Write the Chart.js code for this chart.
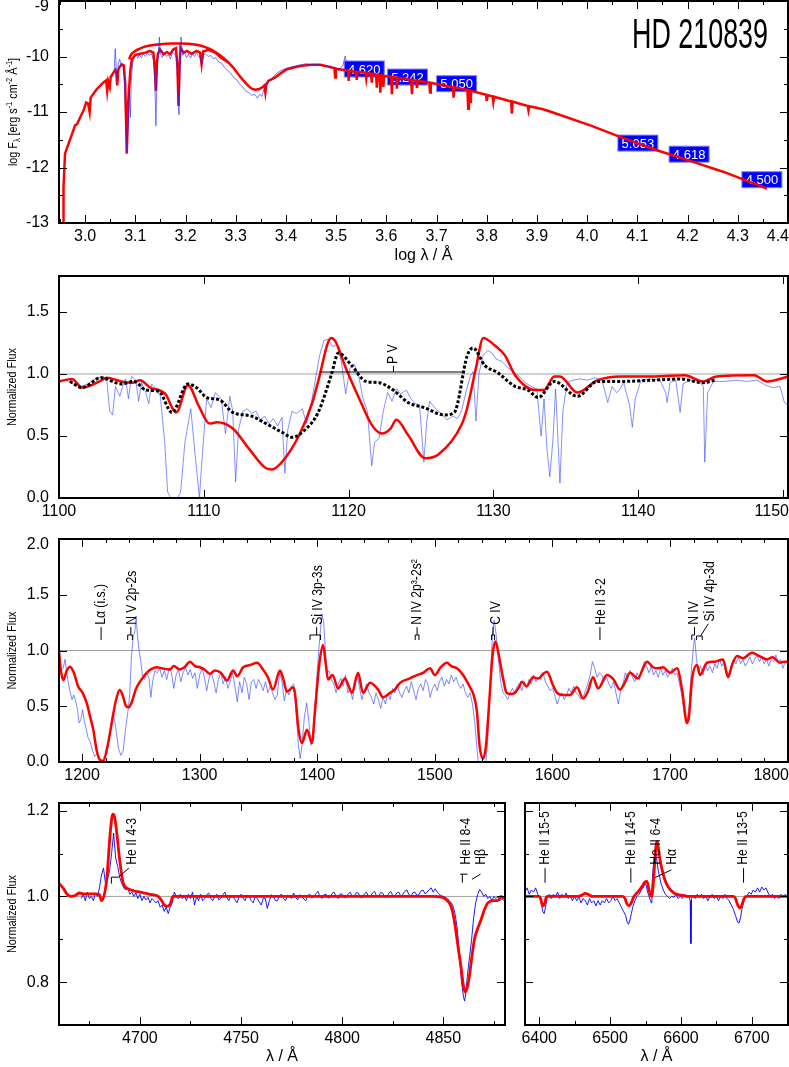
<!DOCTYPE html>
<html>
<head>
<meta charset="utf-8">
<title>HD 210839</title>
<script src="https://cdn.jsdelivr.net/npm/chart.js@4.4.1/dist/chart.umd.min.js"></script>
<style>
  html, body { margin: 0; padding: 0; background: #fff; overflow: hidden; }
  #wrap { position: relative; width: 789px; height: 1067px; }
  canvas { position: absolute; }
</style>
</head>
<body>
<div id="wrap">
  <canvas id="p1" width="789" height="268" style="left:0px;top:0px"></canvas>
  <canvas id="p2" width="789" height="257" style="left:0px;top:268px"></canvas>
  <canvas id="p3" width="789" height="260" style="left:0px;top:525px"></canvas>
  <canvas id="p4" width="515" height="282" style="left:0px;top:785px"></canvas>
  <canvas id="p5" width="274" height="282" style="left:515px;top:785px"></canvas>
</div>
<script>
// ---- SED: log lambda / log F_lambda ----
var sedObs = [
  [3.058,-10.25],[3.060,-9.86],[3.062,-10.2],[3.064,-10.45],[3.066,-10.12],[3.069,-10.05],[3.072,-10.18],[3.075,-10.15],
  [3.078,-10.35],[3.080,-10.9],[3.083,-11.7],[3.086,-11.2],[3.088,-10.6],[3.090,-11.1],[3.092,-10.4],[3.095,-10.1],
  [3.098,-10.02],[3.102,-9.98],[3.105,-10.03],[3.108,-9.97],[3.112,-10.02],[3.116,-9.95],[3.120,-10.0],[3.124,-9.94],
  [3.128,-9.98],[3.132,-9.95],[3.136,-10.05],[3.139,-10.5],[3.141,-11.25],[3.143,-10.4],[3.146,-9.9],[3.148,-9.65],
  [3.150,-9.95],[3.154,-10.02],[3.158,-9.93],[3.162,-10.0],[3.166,-9.97],[3.170,-10.04],[3.174,-9.93],[3.178,-9.95],
  [3.182,-10.02],[3.185,-10.6],[3.187,-11.05],[3.189,-10.3],[3.191,-9.65],[3.194,-9.98],[3.198,-9.93],[3.202,-10.02],
  [3.206,-9.96],[3.210,-10.03],[3.214,-9.95],[3.218,-10.0],[3.222,-9.93],[3.226,-10.0],[3.230,-10.02],[3.232,-10.15],
  [3.236,-9.97],[3.240,-9.95],[3.245,-10.0],[3.250,-9.98],[3.255,-10.04],[3.260,-10.02],[3.266,-10.1],[3.272,-10.12],
  [3.278,-10.2],[3.284,-10.25],[3.290,-10.3],[3.296,-10.38],[3.302,-10.42],[3.308,-10.5],[3.314,-10.55],[3.320,-10.62],
  [3.326,-10.65],[3.332,-10.7],[3.338,-10.68],[3.343,-10.75],[3.348,-10.68],[3.352,-10.72],[3.356,-10.6],[3.360,-10.55],
  [3.365,-10.45],[3.370,-10.42],[3.376,-10.35],[3.382,-10.3],[3.390,-10.25],[3.400,-10.22],[3.410,-10.19],[3.420,-10.17],
  [3.430,-10.15],[3.440,-10.13],[3.450,-10.15],[3.460,-10.14],[3.470,-10.16],[3.480,-10.17],[3.490,-10.2],[3.500,-10.2],
  [3.505,-10.25],[3.510,-10.2],[3.514,-10.15],[3.518,-9.99],[3.520,-10.1],[3.522,-10.22]
];
var sedModel = [
  [2.956,-13.0],[2.957,-12.35],[2.960,-11.75],[2.967,-11.57],[2.973,-11.42],[2.980,-11.24],[2.984,-11.22],[2.990,-11.1],
  [2.997,-10.97],[3.002,-10.83],[3.006,-10.85],[3.009,-11.0],[3.011,-10.74],[3.023,-10.59],[3.036,-10.47],[3.042,-10.43],
  [3.044,-10.62],[3.046,-10.45],[3.049,-10.55],[3.051,-10.37],[3.060,-10.24],[3.062,-10.28],[3.064,-10.52],[3.066,-10.25],
  [3.068,-10.2],[3.073,-10.14],[3.077,-10.16],[3.080,-10.5],[3.083,-11.75],[3.086,-10.8],[3.090,-10.26],[3.093,-10.05],
  [3.100,-9.97],[3.106,-9.96],[3.120,-9.93],[3.129,-9.90],[3.136,-9.93],[3.139,-10.2],[3.141,-10.62],[3.143,-10.1],
  [3.145,-9.96],[3.149,-9.87],[3.156,-9.96],[3.163,-9.92],[3.169,-9.96],[3.176,-9.87],[3.181,-9.85],[3.184,-10.2],
  [3.186,-10.89],[3.188,-10.2],[3.190,-9.84],[3.196,-9.93],[3.203,-9.90],[3.212,-9.95],[3.222,-9.90],[3.229,-9.93],
  [3.232,-10.14],[3.235,-9.91],[3.246,-9.88],[3.259,-9.93],[3.272,-10.03],[3.286,-10.11],[3.296,-10.21],[3.305,-10.32],
  [3.315,-10.43],[3.325,-10.53],[3.332,-10.58],[3.339,-10.60],[3.346,-10.59],[3.352,-10.56],[3.357,-10.52],[3.359,-10.65],
  [3.361,-10.5],[3.365,-10.44],[3.378,-10.38],[3.390,-10.3],[3.402,-10.23],[3.428,-10.17],[3.450,-10.15],[3.468,-10.15],
  [3.488,-10.19],[3.4965,-10.21],[3.498,-10.38],[3.4995,-10.22],
  [3.5235,-10.255],[3.525,-10.44],[3.5265,-10.26],[3.5395,-10.275],[3.541,-10.42],[3.5425,-10.28],[3.554,-10.29],
  [3.5585,-10.295],[3.560,-10.40],[3.5615,-10.30],[3.5695,-10.31],[3.571,-10.47],[3.5725,-10.315],
  [3.5795,-10.325],[3.581,-10.56],[3.5825,-10.33],[3.5865,-10.335],[3.588,-10.65],[3.5895,-10.34],
  [3.5925,-10.345],[3.594,-10.55],[3.5955,-10.35],[3.6095,-10.365],[3.611,-10.68],[3.6125,-10.37],
  [3.6195,-10.38],[3.621,-10.58],[3.6225,-10.385],[3.6495,-10.42],[3.651,-10.68],[3.6525,-10.425],
  [3.6595,-10.435],[3.661,-10.57],[3.6625,-10.44],[3.6855,-10.47],[3.687,-10.65],[3.6885,-10.475],
  [3.7325,-10.555],[3.734,-10.74],[3.7355,-10.56],[3.754,-10.59],[3.7615,-10.605],[3.763,-10.94],[3.7645,-10.61],
  [3.7655,-10.615],[3.767,-10.82],[3.7685,-10.62],[3.7985,-10.69],[3.800,-10.80],[3.8015,-10.695],
  [3.8115,-10.72],[3.813,-10.82],[3.8145,-10.725],[3.820,-10.74],[3.8485,-10.81],[3.850,-11.03],[3.8515,-10.815],
  [3.873,-10.87],[3.8815,-10.89],[3.883,-10.97],[3.8845,-10.895],[3.912,-10.95],[3.926,-10.99],[4.006,-11.24],
  [4.072,-11.47],[4.139,-11.69],[4.205,-11.88],[4.272,-12.08],[4.358,-12.38]
];
var sedModelCont = [
  [3.088,-10.05],[3.090,-9.99],[3.100,-9.9],[3.106,-9.87],[3.120,-9.82],[3.139,-9.79],[3.156,-9.775],[3.173,-9.765],
  [3.190,-9.765],[3.206,-9.77],[3.222,-9.79],[3.239,-9.83],[3.252,-9.88],[3.266,-9.96],[3.276,-10.03],[3.286,-10.11]
];
// photometry: log lambda, log flux, magnitude
var photLam = [3.556, 3.642, 3.740, 4.101, 4.203, 4.348];
var photFlux = [-10.225, -10.37, -10.49, -11.56, -11.76, -12.22];
var photMag = ['4.620', '5.242', '5.050', '5.053', '4.618', '4.500'];

// ---- FUV 1100-1150 ----
var fuvObs = [
  [1100.5,0.95],[1101.0,0.92],[1101.5,0.90],[1102.0,0.92],[1102.5,0.96],[1103.0,0.98],[1103.3,0.95],[1103.5,0.70],
  [1103.7,0.67],[1103.9,0.90],[1104.2,0.82],[1104.4,0.90],[1104.6,0.96],[1104.8,0.80],[1105.0,0.98],[1105.3,0.95],
  [1105.5,0.78],[1105.7,0.93],[1106.0,0.85],[1106.2,0.76],[1106.4,0.92],[1106.7,0.88],[1107.0,0.82],[1107.3,0.45],
  [1107.5,0.05],[1107.7,0.0],[1108.2,0.0],[1108.4,0.05],[1108.7,0.45],[1109.1,0.72],[1109.4,0.35],[1109.7,0.0],
  [1109.9,0.35],[1110.2,0.80],[1110.5,0.73],[1110.8,0.85],[1111.2,0.80],[1111.5,0.52],[1111.8,0.82],[1112.0,0.70],
  [1112.2,0.13],[1112.4,0.55],[1112.7,0.70],[1113.0,0.72],[1113.3,0.68],[1113.6,0.70],[1113.9,0.63],[1114.2,0.66],
  [1114.5,0.60],[1114.8,0.64],[1115.1,0.58],[1115.4,0.65],[1115.6,0.20],[1115.8,0.55],[1116.1,0.70],[1116.4,0.68],
  [1116.8,0.72],[1117.1,0.60],[1117.4,0.75],[1117.7,0.95],[1118.0,1.15],[1118.3,1.27],[1118.6,1.28],[1118.9,1.22],
  [1119.2,1.24],[1119.5,1.10],[1119.8,0.84],[1120.1,1.05],[1120.4,1.08],[1120.7,0.98],[1121.0,0.80],[1121.3,0.70],
  [1121.6,0.26],[1121.8,0.45],[1122.1,0.48],[1122.4,0.70],[1122.7,0.85],[1123.0,0.78],[1123.3,0.88],[1123.6,0.84],
  [1124.0,0.87],[1124.3,0.80],[1124.6,0.76],[1124.9,0.75],[1125.2,0.29],[1125.4,0.62],[1125.6,0.78],[1126.0,0.72],
  [1126.4,0.68],[1126.8,0.63],[1127.2,0.66],[1127.5,0.64],[1127.8,0.70],[1128.1,0.85],[1128.4,0.98],[1128.6,1.02],
  [1128.8,0.62],[1129.0,1.0],[1129.3,1.15],[1129.6,1.19],[1129.9,1.17],[1130.2,1.12],[1130.6,1.10],[1131.0,1.05],
  [1131.4,1.02],[1131.8,0.98],[1132.2,0.93],[1132.6,0.90],[1133.0,0.88],[1133.3,0.50],[1133.5,0.80],[1133.7,0.40],
  [1133.9,0.17],[1134.1,0.45],[1134.3,0.88],[1134.6,0.12],[1134.8,0.70],[1135.1,0.93],[1135.5,0.95],[1136.0,0.96],
  [1136.5,0.95],[1137.0,0.97],[1137.5,0.95],[1137.9,0.77],[1138.2,0.90],[1138.5,0.85],[1138.7,0.87],[1139.0,0.93],
  [1139.4,0.75],[1139.6,0.57],[1139.8,0.80],[1140.2,0.95],[1140.8,0.96],[1141.5,0.95],[1141.9,0.85],[1142.0,0.77],
  [1142.2,0.93],[1142.6,0.95],[1142.9,0.69],[1143.1,0.92],[1143.6,0.95],[1144.2,0.94],[1144.5,0.90],[1144.6,0.29],
  [1144.8,0.85],[1145.2,0.94],[1146.0,0.94],[1146.8,0.95],[1147.5,0.94],[1148.2,0.95],[1148.8,0.91],[1149.3,0.89],
  [1149.8,0.90],[1150.1,0.77],[1150.4,0.74]
];
var fuvModel = [
  [1100.0,0.94],[1100.9,0.96],[1101.6,0.89],[1102.8,0.94],[1103.3,0.97],[1104.3,0.94],[1105.1,0.93],[1105.6,0.95],
  [1106.3,0.89],[1106.9,0.87],[1107.4,0.83],[1107.8,0.73],[1108.1,0.69],[1108.9,0.91],[1109.7,0.73],[1110.4,0.60],
  [1110.9,0.61],[1112.0,0.56],[1113.1,0.40],[1114.3,0.24],[1114.7,0.23],[1115.4,0.29],[1116.6,0.51],[1117.5,0.77],
  [1117.9,0.94],[1118.8,1.29],[1119.1,1.26],[1119.8,1.05],[1120.7,0.81],[1121.6,0.59],[1122.3,0.52],[1122.9,0.56],
  [1123.3,0.63],[1124.1,0.51],[1125.3,0.32],[1126.2,0.35],[1127.8,0.59],[1128.2,0.73],[1128.8,1.05],[1129.3,1.29],
  [1130.1,1.23],[1130.8,1.15],[1131.5,0.99],[1132.9,0.87],[1133.5,0.87],[1134.2,0.98],[1134.6,0.98],[1135.8,0.85],
  [1137.2,0.95],[1138.8,0.98],[1141.1,0.98],[1143.2,0.99],[1144.5,0.94],[1145.4,0.98],[1148.0,0.99],[1148.9,0.94],
  [1150.4,0.98]
];
var fuvModel2 = [
  [1100.75,0.94],[1101.6,0.89],[1102.9,0.97],[1104.3,0.92],[1105.2,0.94],[1106.0,0.87],[1106.9,0.86],[1107.8,0.69],
  [1108.9,0.92],[1109.5,0.89],[1110.2,0.81],[1111.1,0.79],[1112.0,0.69],[1113.3,0.66],[1114.3,0.60],[1115.4,0.53],
  [1116.1,0.49],[1117.0,0.55],[1117.9,0.69],[1118.8,0.99],[1119.3,1.17],[1120.2,1.07],[1121.2,0.94],[1122.1,0.93],
  [1122.7,0.90],[1123.3,0.85],[1124.1,0.77],[1125.2,0.73],[1126.6,0.67],[1127.3,0.69],[1128.2,1.15],[1128.6,1.21],
  [1129.4,1.07],[1130.3,1.01],[1131.5,0.90],[1132.4,0.87],[1133.1,0.81],[1134.2,0.94],[1135.8,0.82],[1137.2,0.94],
  [1138.8,0.94],[1141.1,0.95],[1142.9,0.96],[1144.5,0.93],[1145.3,0.95]
];

// ---- UV 1180-1800 ----
var uvObs = [
  [1180.4,1.12],[1181.5,0.90],[1182.5,0.82],[1184,0.84],[1185.5,0.92],[1187,0.80],[1188.5,0.70],[1190,0.62],
  [1191.5,0.56],[1193,0.60],[1194.5,0.55],[1196,0.48],[1197.5,0.35],[1199,0.38],[1200.5,0.47],[1202,0.36],
  [1203.5,0.30],[1205,0.22],[1207,0.18],[1209,0.10],[1211,0.05],[1213,0.08],[1215,0.01],[1217,0.0],
  [1219,0.05],[1221,0.07],[1223,0.20],[1225,0.33],[1227,0.42],[1229,0.28],[1231,0.12],[1233,0.06],
  [1235,0.10],[1237,0.30],[1239,0.45],[1240.5,0.60],[1242,0.95],[1243.5,1.12],[1245,1.18],[1246,1.31],
  [1247,1.15],[1248.5,1.00],[1250,0.90],[1251.5,0.76],[1253,0.74],[1255,0.80],[1257,0.75],[1258.5,0.58],
  [1260,0.72],[1262,0.82],[1264,0.80],[1266,0.84],[1268,0.76],[1270,0.82],[1272,0.74],[1274,0.84],
  [1276,0.80],[1278,0.66],[1280,0.78],[1282,0.83],[1284,0.72],[1286,0.80],[1288,0.85],[1290,0.78],
  [1292,0.83],[1294,0.75],[1296,0.80],[1298,0.66],[1300,0.78],[1302,0.84],[1304,0.76],[1306,0.64],
  [1308,0.75],[1310,0.80],[1312,0.72],[1314,0.62],[1316,0.74],[1318,0.80],[1320,0.70],[1322,0.76],
  [1324,0.66],[1326,0.72],[1328,0.80],[1330,0.68],[1332,0.54],[1334,0.72],[1336,0.62],[1338,0.76],
  [1340,0.70],[1342,0.56],[1344,0.72],[1346,0.74],[1348,0.66],[1350,0.74],[1352,0.70],[1354,0.64],
  [1356,0.72],[1358,0.62],[1360,0.68],[1362,0.62],[1364,0.56],[1366,0.60],[1368,0.80],[1370,0.72],
  [1372,0.55],[1374,0.65],[1376,0.60],[1378,0.68],[1380,0.70],[1382,0.45],[1384,0.15],[1385.5,0.03],
  [1387,0.15],[1389,0.40],[1391,0.53],[1393,0.35],[1394.5,0.15],[1396,0.20],[1398,0.50],[1400,0.82],
  [1402,1.10],[1404,1.33],[1405.5,1.25],[1407,0.98],[1408.5,0.80],[1410,0.82],[1412,0.74],[1414,0.70],
  [1416,0.62],[1418,0.70],[1420,0.75],[1422,0.68],[1424,0.78],[1426,0.62],[1428,0.66],[1430,0.56],
  [1432,0.70],[1434,0.78],[1436,0.66],[1438,0.56],[1440,0.64],[1442,0.70],[1444,0.62],[1446,0.58],
  [1448,0.52],[1450,0.62],[1452,0.56],[1454,0.48],[1456,0.58],[1458,0.52],[1460,0.62],[1462,0.56],
  [1464,0.66],[1466,0.62],[1468,0.70],[1470,0.62],[1472,0.58],[1474,0.64],[1476,0.68],[1478,0.62],
  [1480,0.72],[1482,0.64],[1484,0.56],[1486,0.66],[1488,0.70],[1490,0.64],[1492,0.74],[1494,0.70],
  [1496,0.58],[1498,0.66],[1500,0.70],[1502,0.64],[1504,0.72],[1506,0.76],[1508,0.68],[1510,0.74],
  [1512,0.70],[1514,0.78],[1516,0.72],[1518,0.76],[1520,0.70],[1522,0.66],[1524,0.70],[1526,0.62],
  [1528,0.58],[1530,0.62],[1532,0.52],[1534,0.35],[1536,0.10],[1537.5,-0.05],[1543,-0.05],[1545,0.20],
  [1547,0.70],[1549,1.15],[1550.5,1.27],[1552,1.15],[1554,0.92],[1556,0.72],[1558,0.62],[1560,0.60],
  [1562,0.56],[1564,0.62],[1566,0.66],[1568,0.62],[1570,0.68],[1572,0.70],[1574,0.64],[1576,0.72],
  [1578,0.66],[1580,0.74],[1582,0.70],[1584,0.78],[1586,0.72],[1588,0.76],[1590,0.74],[1592,0.80],
  [1594,0.72],[1596,0.68],[1598,0.64],[1600,0.66],[1602,0.60],[1604,0.52],[1606,0.58],[1608,0.62],
  [1610,0.56],[1612,0.60],[1614,0.66],[1616,0.62],[1618,0.68],[1620,0.62],[1622,0.60],[1624,0.56],
  [1626,0.58],[1628,0.64],[1630,0.70],[1632,0.78],[1634,0.90],[1636,0.84],[1638,0.76],[1640,0.80],
  [1642,0.78],[1644,0.72],[1646,0.76],[1648,0.70],[1650,0.66],[1652,0.72],[1654,0.62],[1656,0.52],
  [1658,0.64],[1660,0.70],[1662,0.80],[1664,0.74],[1666,0.82],[1668,0.76],[1670,0.72],[1672,0.80],
  [1674,0.74],[1676,0.82],[1678,0.90],[1680,0.86],[1682,0.80],[1684,0.86],[1686,0.78],[1688,0.82],
  [1690,0.76],[1692,0.84],[1694,0.78],[1696,0.82],[1698,0.76],[1700,0.80],[1702,0.84],[1704,0.78],
  [1706,0.80],[1708,0.70],[1710,0.60],[1712,0.45],[1714,0.36],[1716,0.45],[1718,0.80],[1720,1.05],
  [1721,1.11],[1722.5,0.92],[1724,0.80],[1726,0.86],[1728,0.78],[1730,0.88],[1732,0.82],[1734,0.86],
  [1736,0.80],[1738,0.88],[1740,0.84],[1742,0.92],[1744,0.86],[1746,0.90],[1748,0.82],[1750,0.78],
  [1752,0.86],[1754,0.92],[1756,0.88],[1758,0.94],[1760,0.88],[1762,0.92],[1764,0.86],[1766,0.90],
  [1768,0.94],[1770,0.88],[1772,0.92],[1774,0.96],[1776,0.90],[1778,0.94],[1780,0.88],[1782,0.92],
  [1784,0.86],[1786,0.92],[1788,0.90],[1790,0.96],[1792,0.90],[1794,0.92],[1796,0.84],[1798,0.90],
  [1800.3,0.88]
];
var uvModel = [
  [1180.4,0.98],[1182,0.82],[1184.1,0.735],[1187,0.82],[1189.8,0.855],[1193,0.80],[1196.8,0.675],[1200.5,0.62],
  [1204,0.527],[1207,0.40],[1209.6,0.287],[1212.5,0.10],[1215.3,0.018],[1218,0.01],[1222,0.16],[1226,0.40],
  [1229,0.56],[1232,0.645],[1234.5,0.60],[1237,0.51],[1239.5,0.49],[1242,0.53],[1246,0.66],[1252,0.76],
  [1257,0.82],[1263.7,0.85],[1268,0.84],[1274.8,0.83],[1278,0.86],[1283,0.83],[1287,0.85],[1291.8,0.90],
  [1296,0.86],[1300.3,0.85],[1304,0.83],[1308.8,0.79],[1313,0.82],[1318,0.80],[1323.3,0.73],[1328.4,0.82],
  [1332,0.77],[1337,0.85],[1343,0.87],[1348.7,0.89],[1353.9,0.83],[1358,0.76],[1362.4,0.65],[1368.3,0.82],
  [1371,0.75],[1374.2,0.63],[1379.4,0.67],[1381,0.62],[1384,0.30],[1387,0.17],[1391.3,0.29],[1395.5,0.17],
  [1398,0.45],[1402,0.90],[1405,1.05],[1407,0.90],[1409.2,0.74],[1413,0.78],[1417.7,0.66],[1423.6,0.75],
  [1426,0.70],[1429.5,0.62],[1434.7,0.80],[1438.9,0.62],[1444.9,0.71],[1451.7,0.65],[1455.9,0.58],[1461.9,0.62],
  [1466,0.65],[1470.4,0.71],[1478.9,0.75],[1484.8,0.78],[1490,0.80],[1495.9,0.84],[1500,0.78],[1505,0.85],
  [1510.3,0.89],[1514,0.86],[1518.8,0.84],[1524,0.78],[1529.9,0.67],[1533,0.60],[1535.8,0.45],[1538,0.15],
  [1540.9,0.03],[1543.5,0.15],[1546,0.50],[1549,0.95],[1551.5,1.08],[1554,0.98],[1558,0.75],[1561,0.62],
  [1564,0.61],[1568,0.62],[1571,0.66],[1574.1,0.72],[1578,0.68],[1583.5,0.76],[1588,0.75],[1592,0.79],
  [1595.4,0.81],[1600,0.70],[1603.9,0.62],[1609,0.60],[1615,0.60],[1620.9,0.67],[1626,0.57],[1630,0.63],
  [1634.5,0.76],[1638.8,0.66],[1646.4,0.78],[1652,0.74],[1657.4,0.65],[1661,0.70],[1665.9,0.80],[1672.7,0.75],
  [1677,0.84],[1680.4,0.90],[1685.5,0.85],[1690,0.84],[1694,0.85],[1700,0.80],[1705.9,0.84],[1710.2,0.65],
  [1714.4,0.35],[1716,0.40],[1718.7,0.74],[1722.9,0.87],[1725.5,0.78],[1731.4,0.89],[1738,0.90],[1745,0.92],
  [1749.3,0.76],[1753,0.88],[1757,0.95],[1762,0.93],[1769.7,0.98],[1776,0.95],[1782.5,0.92],[1787,0.94],
  [1793.5,0.89],[1797,0.90],[1800.3,0.90]
];

// ---- optical: He II 4686 / H beta ----
var optObs = [
  [4671,0.995],[4672,1.005],[4673,0.99],[4674,1.01],[4675,0.995],[4676,1.0],[4677,0.99],[4678,1.008],[4679,1.0],
  [4680,1.02],[4681,1.05],[4682,1.066],[4683,1.03],[4684,1.04],[4685,1.06],[4686,1.10],[4687,1.148],[4688,1.09],
  [4689,1.07],[4690,1.045],[4691,1.03],[4692,1.02],[4693,1.015],[4694,1.02],[4695,1.005],[4696,1.01],[4697,1.0],
  [4698,1.008],[4699,0.995],[4700,1.005],[4701,0.99],[4702,1.0],[4703,0.992],[4704,0.998],[4705,0.985],[4706,0.995],
  [4707,0.99],[4708,0.985],[4709,0.99],[4710,0.975],[4711,0.98],[4712,0.965],[4713,0.975],[4714,0.96],[4715,0.975],
  [4716,0.985],[4717,1.01],[4718,1.0],[4719,0.995],[4720,1.005],[4721,0.995],[4722,1.0],[4723,0.99],[4724,1.005],
  [4725,0.995],[4726,1.01],[4727,0.98],[4728,1.0],[4729,0.99],[4730,1.005],[4731,0.99],[4732,0.995],[4733,1.004],
  [4734,1.008],[4735,0.996],[4736,0.99],[4737,1.0],[4738,1.005],[4739,0.992],[4740,0.995],[4741,1.004],[4742,1.01],
  [4743,0.997],[4744,0.99],[4745,1.002],[4746,1.0],[4747,0.992],[4748,0.985],[4749,0.998],[4750,1.005],[4751,0.996],
  [4752,0.99],[4753,1.003],[4754,1.0],[4755,0.99],[4756,0.985],[4757,1.0],[4758,0.995],[4759,0.987],[4760,0.98],
  [4761,0.996],[4762,0.995],[4763,0.972],[4764,0.99],[4765,1.004],[4766,1.0],[4767,0.99],[4768,0.99],[4769,1.002],
  [4770,1.005],[4771,0.995],[4772,0.99],[4773,1.003],[4774,1.0],[4775,0.995],[4776,1.008],[4777,0.998],[4778,0.992],
  [4779,1.004],[4780,1.0],[4781,0.994],[4782,0.99],[4783,1.002],[4784,1.005],[4785,0.996],[4786,1.0],[4787,1.006],
  [4788,1.012],[4789,1.0],[4790,0.995],[4791,1.004],[4792,1.005],[4793,0.996],[4794,0.998],[4795,1.007],[4796,1.01],
  [4797,1.0],[4798,0.995],[4799,1.006],[4800,1.005],[4801,0.997],[4802,0.998],[4803,1.006],[4804,1.01],[4805,0.999],
  [4806,1.0],[4807,1.009],[4808,1.008],[4809,0.998],[4810,0.997],[4811,1.006],[4812,1.01],[4813,1.0],[4814,1.0],
  [4815,1.008],[4816,1.012],[4817,1.001],[4818,1.0],[4819,1.009],[4820,1.008],[4821,0.999],[4822,0.998],[4823,1.007],
  [4824,1.012],[4825,1.002],[4826,1.0],[4827,1.008],[4828,1.01],[4829,1.0],[4830,1.005],[4831,1.012],[4832,1.015],
  [4833,1.004],[4834,1.0],[4835,1.009],[4836,1.01],[4837,1.002],[4838,1.005],[4839,1.013],[4840,1.015],[4841,1.006],
  [4842,1.01],[4843,1.016],[4844,1.02],[4845,1.01],[4846,1.018],[4847,1.01],[4848,1.005],[4849,1.002],[4850,1.0],
  [4851,0.998],[4852,0.995],[4853,0.99],[4854,0.985],[4855,0.975],[4856,0.955],[4857,0.92],[4858,0.86],[4859,0.80],
  [4860,0.765],[4860.5,0.756],[4861,0.77],[4862,0.82],[4863,0.86],[4864,0.90],[4865,0.95],[4866,0.985],[4867,1.005],
  [4868,1.016],[4869,1.01],[4870,1.0],[4871,1.005],[4872,0.995],[4873,1.0],[4874,0.99],[4875,1.0],[4876,0.995],
  [4877,1.0],[4878,0.99],[4879,0.995],[4880,0.99]
];
var optModel = [
  [4660,1.03],[4662,1.02],[4664,1.005],[4666,1.0],[4668,1.002],[4670,1.008],[4672,1.006],[4675,1.006],[4678,1.006],
  [4680,1.004],[4681,0.99],[4683.6,1.04],[4685.3,1.147],[4686.6,1.192],[4687.5,1.185],[4688.4,1.155],[4690,1.085],
  [4691.7,1.032],[4694,1.018],[4697,1.013],[4700,1.01],[4705,1.005],[4709,1.0],[4710.8,0.99],[4712,0.98],
  [4713.4,0.977],[4715,0.982],[4716.3,1.0],[4720,1.0],[4845,1.0],[4850,0.997],[4852,0.99],[4853.8,0.977],
  [4855,0.955],[4856.2,0.92],[4857.5,0.875],[4858.7,0.837],[4860,0.79],[4860.9,0.777],[4862,0.79],[4862.9,0.814],
  [4864,0.855],[4865.4,0.90],[4867,0.925],[4868.7,0.946],[4870,0.965],[4872,0.985],[4875,0.99],[4877,0.99],
  [4878.5,1.0],[4880,0.995]
];

// ---- optical: H alpha region ----
var haObs = [
  [6380,1.01],[6383,1.02],[6386,1.005],[6389,1.015],[6392,1.01],[6395,1.02],[6398,1.005],[6401,0.995],[6403,0.985],
  [6405,0.965],[6407,0.96],[6409,0.975],[6411,0.995],[6414,1.005],[6417,0.995],[6420,1.005],[6423,1.0],[6426,1.01],
  [6429,0.995],[6432,1.005],[6435,0.998],[6438,1.008],[6441,0.995],[6444,1.0],[6447,0.99],[6450,1.0],[6453,0.99],
  [6456,0.998],[6459,0.985],[6462,0.995],[6465,0.99],[6468,0.98],[6471,0.995],[6474,0.985],[6477,0.99],[6480,0.978],
  [6483,0.99],[6486,0.98],[6489,0.99],[6492,0.985],[6495,0.995],[6498,0.985],[6501,0.99],[6504,1.0],[6507,0.99],
  [6510,0.995],[6513,0.985],[6516,0.975],[6519,0.965],[6522,0.955],[6524,0.94],[6526,0.935],[6528,0.945],[6530,0.96],
  [6532,0.975],[6535,0.99],[6538,1.0],[6541,1.005],[6544,1.015],[6547,1.02],[6549,1.03],[6551,1.025],[6553,1.01],
  [6555,1.0],[6557,0.99],[6558,0.985],[6559,1.02],[6560,1.05],[6562,1.09],[6564,1.10],[6566,1.085],[6568,1.06],
  [6570,1.045],[6572,1.03],[6575,1.015],[6578,1.005],[6581,1.0],[6584,0.995],[6587,1.0],[6590,0.998],[6593,1.005],
  [6596,0.995],[6599,1.0],[6602,0.995],[6605,1.005],[6608,0.998],[6611,1.0],[6613,0.99],[6614,0.89],[6615,0.995],
  [6617,1.0],[6620,0.995],[6623,1.005],[6626,0.998],[6629,1.005],[6632,0.995],[6635,1.0],[6638,0.99],[6641,1.0],
  [6644,1.005],[6647,0.995],[6650,1.0],[6653,0.99],[6656,1.0],[6659,0.995],[6662,1.005],[6665,0.995],[6668,0.99],
  [6671,0.98],[6674,0.97],[6677,0.955],[6680,0.94],[6682,0.938],[6684,0.95],[6686,0.97],[6688,0.985],[6690,0.995],
  [6693,1.0],[6696,1.01],[6699,1.005],[6702,1.015],[6705,1.01],[6708,1.02],[6711,1.01],[6714,1.022],[6717,1.015],
  [6720,1.02],[6723,1.008],[6726,1.0],[6729,1.005],[6732,0.995],[6735,1.003],[6738,0.995],[6741,1.005],[6744,0.998],
  [6747,1.005],[6750,1.0]
];
var haModel = [
  [6380,1.0],[6400,1.0],[6402,0.995],[6404,0.982],[6406,0.978],[6408,0.985],[6410,0.998],[6412,1.0],[6455,1.0],
  [6460,1.003],[6465,1.007],[6470,1.004],[6475,1.0],[6518,1.0],[6521,0.995],[6524,0.982],[6527,0.978],[6530,0.985],
  [6533,0.998],[6536,1.005],[6540,1.012],[6545,1.023],[6549,1.033],[6552,1.035],[6555,1.015],[6558.5,1.0],
  [6561,1.03],[6563,1.08],[6565,1.12],[6566.5,1.128],[6568,1.115],[6570,1.09],[6573,1.065],[6577,1.04],[6582,1.022],
  [6590,1.008],[6600,1.003],[6610,1.0],[6674,1.0],[6677,0.995],[6680,0.98],[6683,0.973],[6686,0.98],[6689,0.995],
  [6692,1.0],[6750,1.0]
];

var FONT = '"Liberation Sans", Arial, Helvetica, sans-serif';

// axis ranges, ticks and annotation positions per panel
var PANELS = {
  p1: { xMin: 2.948, xMax: 4.40, yMin: -13, yMax: -9, xMajor: 0.1, xMinor: 0.05, yMajor: 1, yMinor: 0.5,
        xDec: 1, yDec: 0, yLabels: true, pad: { left: 0, top: 1, right: 1, bottom: 0 }, yw: 59, xh: 45,
        xTitle: { text: 'log λ / Å', y: 256 }, sedTitle: true },
  p2: { xMin: 1100, xMax: 1150.35, yMin: 0, yMax: 1.79, xMajor: 10, xMinor: 0, yMajor: 0.5, yMinor: 0,
        xDec: 0, yDec: 1, yLabels: true, pad: { left: 0, top: 8, right: 1, bottom: 0 }, yw: 59, xh: 27,
        yTitle: 'Normalized Flux',
        marks: [
          { text: 'P V', tx: 1123.1, ty: 1.08, paths: [[[1118.0, 1.016], [1128.0, 1.016]], [[1123.1, 1.016], [1123.1, 1.066]]] }
        ] },
  p3: { xMin: 1180.4, xMax: 1800.3, yMin: 0, yMax: 2.0, xMajor: 100, xMinor: 20, yMajor: 0.5, yMinor: 0,
        xDec: 0, yDec: 1, yLabels: true, pad: { left: 0, top: 14, right: 1, bottom: 0 }, yw: 59, xh: 23,
        yTitle: 'Normalized Flux',
        marks: [
          { text: 'Lα (i.s.)', tx: 1216.2, ty: 1.23, paths: [[[1216.2, 1.094], [1216.2, 1.21]]] },
          { text: 'N V 2p-2s', tx: 1242.2, ty: 1.23, paths: [[[1238.8, 1.094], [1238.8, 1.139], [1242.8, 1.139], [1242.8, 1.094]], [[1241.5, 1.139], [1241.5, 1.21]]] },
          { text: 'Si IV 3p-3s', tx: 1400.9, ty: 1.23, paths: [[[1393.8, 1.094], [1393.8, 1.139], [1402.8, 1.139], [1402.8, 1.094]], [[1399.5, 1.139], [1399.5, 1.21]]] },
          { text: 'N IV 2p³-2s²', tx: 1485.0, ty: 1.23, paths: [[[1483.3, 1.094], [1483.3, 1.139], [1486.5, 1.139], [1486.5, 1.094]], [[1484.9, 1.139], [1484.9, 1.21]]] },
          { text: 'C IV', tx: 1551.8, ty: 1.23, paths: [[[1548.2, 1.094], [1548.2, 1.139], [1550.8, 1.139], [1550.8, 1.094]], [[1549.5, 1.139], [1549.5, 1.21]]] },
          { text: 'He II 3-2', tx: 1641.5, ty: 1.23, paths: [[[1640.4, 1.094], [1640.4, 1.21]]] },
          { text: 'N IV', tx: 1720.8, ty: 1.23, paths: [[[1718.5, 1.094], [1718.5, 1.139], [1720.8, 1.139], [1720.8, 1.21]]] },
          { text: 'Si IV 4p-3d', tx: 1734.0, ty: 1.26, paths: [[[1722.5, 1.094], [1722.5, 1.13], [1727.4, 1.13], [1727.4, 1.094]], [[1726.0, 1.13], [1732.5, 1.24]]] }
        ] },
  p4: { xMin: 4660, xMax: 4880.5, yMin: 0.70, yMax: 1.218, xMajor: 50, xMinor: 25, yMajor: 0.2, yMinor: 0.1,
        xDec: 0, yDec: 1, yLabels: true, pad: { left: 0, top: 18, right: 10, bottom: 0 }, yw: 59, xh: 42,
        yTitle: 'Normalized Flux', xTitle: { text: 'λ / Å', y: 272 },
        marks: [
          { text: 'He II 4-3', tx: 4696.0, ty: 1.074, paths: [[[4685.9, 1.03], [4685.9, 1.045], [4689.5, 1.045], [4694.5, 1.066]]] },
          { text: 'He II 8-4', tx: 4861.2, ty: 1.074, paths: [[[4859.4, 1.032], [4859.4, 1.052]], [[4858.3, 1.052], [4862.0, 1.052]]] },
          { text: 'Hβ', tx: 4868.6, ty: 1.074, paths: [[[4868.4, 1.052], [4864.2, 1.04]]] }
        ] },
  p5: { xMin: 6380, xMax: 6751, yMin: 0.70, yMax: 1.218, xMajor: 100, xMinor: 50, yMajor: 0.2, yMinor: 0.1,
        xDec: 0, yDec: 1, yLabels: false, pad: { left: 0, top: 18, right: 1, bottom: 0 }, yw: 10, xh: 42,
        xTitle: { text: 'λ / Å', y: 272 },
        marks: [
          { text: 'He II 15-5', tx: 6408.3, ty: 1.074, paths: [[[6408.3, 1.032], [6408.3, 1.066]]] },
          { text: 'He II 14-5', tx: 6529.3, ty: 1.074, paths: [[[6529.3, 1.032], [6529.3, 1.066]]] },
          { text: 'He II 6-4', tx: 6564.6, ty: 1.074, paths: [] },
          { text: 'Hα', tx: 6587.6, ty: 1.074, paths: [[[6586.5, 1.062], [6563.5, 1.044]]] },
          { text: 'He II 13-5', tx: 6688.3, ty: 1.074, paths: [[[6688.3, 1.032], [6688.3, 1.066]]] }
        ] }
};

function tickVals(min, max, step) {
  var out = [];
  if (!step) return out;
  for (var k = Math.ceil(min / step - 1e-6); k * step <= max + 1e-6; k++) out.push(+(k * step).toFixed(6));
  return out;
}

// narrow text: the figure uses a condensed face for small labels
function narrowText(ctx, text, x, y, size, sx, vertical, align) {
  ctx.save();
  ctx.translate(x, y);
  if (vertical) ctx.rotate(-Math.PI / 2);
  ctx.scale(sx, 1);
  ctx.font = size + 'px ' + FONT;
  ctx.textAlign = align;
  ctx.textBaseline = 'middle';
  ctx.fillText(text, 0, 0);
  ctx.restore();
}

function richVText(ctx, parts, x, y, sx) {
  ctx.save();
  ctx.translate(x, y);
  ctx.rotate(-Math.PI / 2);
  ctx.scale(sx, 1);
  var total = 0;
  parts.forEach(function(p) { ctx.font = p[2] + 'px ' + FONT; total += ctx.measureText(p[0]).width; });
  var cx = -total / 2;
  ctx.textAlign = 'left';
  ctx.textBaseline = 'alphabetic';
  parts.forEach(function(p) {
    ctx.font = p[2] + 'px ' + FONT;
    ctx.fillText(p[0], cx, 4.5 + p[1]);
    cx += ctx.measureText(p[0]).width;
  });
  ctx.restore();
}

var framePlugin = {
  id: 'frame',
  beforeDatasetsDraw: function(chart) {
    if (chart.canvas.id !== 'p1') return;
    var ctx = chart.ctx, xs = chart.scales.x, ys = chart.scales.y;
    ctx.save();
    ctx.font = '13px ' + FONT;
    ctx.textAlign = 'center';
    ctx.textBaseline = 'middle';
    photLam.forEach(function(l, i) {
      var px = xs.getPixelForValue(l), py = ys.getPixelForValue(photFlux[i]);
      ctx.fillStyle = '#0000ff';
      ctx.fillRect(px - 20, py - 8, 40, 16);
      ctx.strokeStyle = '#7f7fff';
      ctx.lineWidth = 1;
      ctx.strokeRect(px - 20, py - 8, 40, 16);
      ctx.fillStyle = '#ffffff';
      ctx.fillText(photMag[i], px, py + 1);
    });
    ctx.restore();
  },
  afterDraw: function(chart) {
    var c = PANELS[chart.canvas.id];
    var ctx = chart.ctx, a = chart.chartArea;
    var xs = chart.scales.x, ys = chart.scales.y;
    ctx.save();
    ctx.fillStyle = '#000';
    ctx.strokeStyle = '#000';

    // line identifications
    ctx.lineWidth = 1;
    (c.marks || []).forEach(function(m) {
      m.paths.forEach(function(p) {
        ctx.beginPath();
        p.forEach(function(pt, i) {
          var X = xs.getPixelForValue(pt[0]), Y = ys.getPixelForValue(pt[1]);
          if (i) ctx.lineTo(X, Y); else ctx.moveTo(X, Y);
        });
        ctx.stroke();
      });
      narrowText(ctx, m.text, xs.getPixelForValue(m.tx), ys.getPixelForValue(m.ty), 14, 0.87, true, 'left');
    });

    // inward ticks on all four sides
    function xTicks(vals, len) {
      vals.forEach(function(v) {
        var px = Math.round(xs.getPixelForValue(v)) + 0.5;
        ctx.beginPath();
        ctx.moveTo(px, a.bottom); ctx.lineTo(px, a.bottom - len);
        ctx.moveTo(px, a.top); ctx.lineTo(px, a.top + len);
        ctx.stroke();
      });
    }
    function yTicks(vals, len) {
      vals.forEach(function(v) {
        var py = Math.round(ys.getPixelForValue(v)) + 0.5;
        ctx.beginPath();
        ctx.moveTo(a.left, py); ctx.lineTo(a.left + len, py);
        ctx.moveTo(a.right, py); ctx.lineTo(a.right - len, py);
        ctx.stroke();
      });
    }
    ctx.lineWidth = 1;
    xTicks(tickVals(c.xMin, c.xMax, c.xMinor), 4);
    yTicks(tickVals(c.yMin, c.yMax, c.yMinor), 4);
    var xMaj = tickVals(c.xMin, c.xMax, c.xMajor), yMaj = tickVals(c.yMin, c.yMax, c.yMajor);
    xTicks(xMaj, 8);
    yTicks(yMaj, 8);

    // frame
    ctx.lineWidth = 2;
    ctx.strokeRect(a.left, a.top, a.right - a.left, a.bottom - a.top);

    // tick labels, kept inside the frame extent like the original plot
    ctx.font = '16px ' + FONT;
    ctx.textBaseline = 'middle';
    ctx.textAlign = 'center';
    xMaj.forEach(function(v) {
      var s = v.toFixed(c.xDec), w = ctx.measureText(s).width;
      var px = xs.getPixelForValue(v);
      if (px + w / 2 > chart.width) px = chart.width - w / 2;
      ctx.fillText(s, px, a.bottom + 14);
    });
    if (c.yLabels) {
      ctx.textAlign = 'right';
      yMaj.forEach(function(v) {
        var py = Math.max(ys.getPixelForValue(v), a.top + 6);
        ctx.fillText(v.toFixed(c.yDec), a.left - 10, py);
      });
    }

    // axis titles
    if (c.xTitle) {
      ctx.font = '16px ' + FONT;
      ctx.textAlign = 'center';
      ctx.fillText(c.xTitle.text, (a.left + a.right) / 2, c.xTitle.y);
    }
    if (c.yTitle) narrowText(ctx, c.yTitle, 12, (a.top + a.bottom) / 2, 13, 0.83, true, 'center');
    if (c.sedTitle) {
      richVText(ctx, [['log F', 0, 13], ['λ', 3, 9], [' [erg s', 0, 13], ['-1', -5, 9], [' cm', 0, 13],
                      ['-2', -5, 9], [' Å', 0, 13], ['-1', -5, 9], [']', 0, 13]], 12, (a.top + a.bottom) / 2, 0.83);
      ctx.save();
      ctx.translate(768, 48);
      ctx.scale(0.64, 1);
      ctx.font = '42px ' + FONT;
      ctx.textAlign = 'right';
      ctx.textBaseline = 'alphabetic';
      ctx.fillText('HD 210839', 0, 0);
      ctx.restore();
    }
    ctx.restore();
  }
};

function unitLine(c) {
  return { data: [[c.xMin, 1], [c.xMax, 1]], borderColor: '#a0a0a0', borderWidth: 1, pointRadius: 0 };
}

function makeChart(id, datasets) {
  var c = PANELS[id];
  return new Chart(document.getElementById(id), {
    type: 'line',
    data: { datasets: datasets },
    options: {
      responsive: false,
      maintainAspectRatio: false,
      animation: false,
      devicePixelRatio: 1,
      events: [],
      layout: { padding: c.pad },
      elements: { point: { radius: 0 }, line: { tension: 0 } },
      plugins: { legend: { display: false }, tooltip: { enabled: false } },
      scales: {
        x: { type: 'linear', min: c.xMin, max: c.xMax, ticks: { display: false }, grid: { display: false },
             border: { display: false }, afterFit: function(s) { s.height = c.xh; } },
        y: { type: 'linear', min: c.yMin, max: c.yMax, ticks: { display: false }, grid: { display: false },
             border: { display: false }, afterFit: function(s) { s.width = c.yw; } }
      }
    },
    plugins: [framePlugin]
  });
}

var smooth = { tension: 0.4, cubicInterpolationMode: 'monotone' };

makeChart('p1', [
  { data: sedObs, borderColor: 'rgba(30,30,255,0.6)', borderWidth: 1 },
  { data: sedModel, borderColor: '#ff0000', borderWidth: 2.5 },
  Object.assign({ data: sedModelCont, borderColor: '#ff0000', borderWidth: 2.5 }, smooth)
]);

makeChart('p2', [
  Object.assign({ data: fuvModel2, borderColor: '#000000', borderWidth: 3, borderDash: [3, 2] }, smooth),
  Object.assign({ data: fuvModel, borderColor: '#ff0000', borderWidth: 2.5 }, smooth),
  { data: fuvObs, borderColor: 'rgba(50,70,255,0.75)', borderWidth: 0.8 },
  unitLine(PANELS.p2)
]);

makeChart('p3', [
  Object.assign({ data: uvModel, borderColor: '#ff0000', borderWidth: 2.5 }, smooth),
  { data: uvObs, borderColor: 'rgba(50,70,255,0.8)', borderWidth: 0.8 },
  unitLine(PANELS.p3)
]);

makeChart('p4', [
  Object.assign({ data: optModel, borderColor: '#ff0000', borderWidth: 2.8 }, smooth),
  { data: optObs, borderColor: '#0000ff', borderWidth: 0.9 },
  unitLine(PANELS.p4)
]);

makeChart('p5', [
  Object.assign({ data: haModel, borderColor: '#ff0000', borderWidth: 2.8 }, smooth),
  { data: haObs, borderColor: '#0000ff', borderWidth: 0.9 },
  unitLine(PANELS.p5)
]);
</script>
</body>
</html>
